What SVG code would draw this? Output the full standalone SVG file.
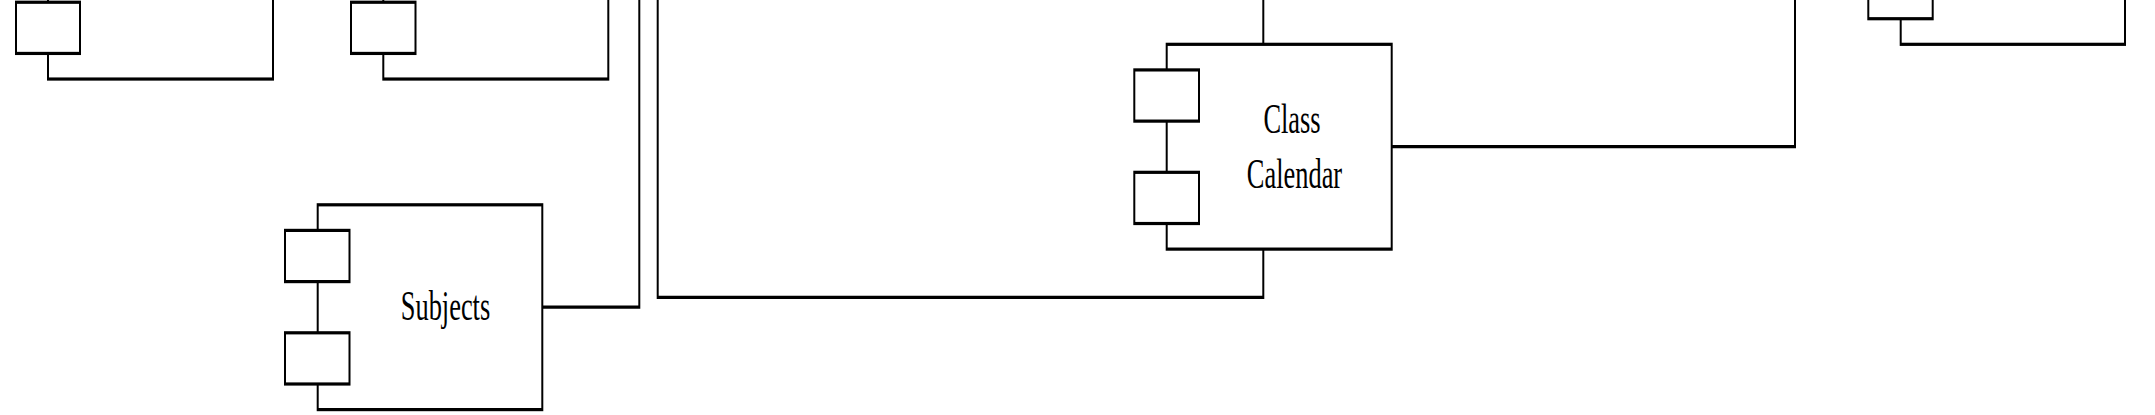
<svg xmlns="http://www.w3.org/2000/svg" width="2155" height="415" viewBox="0 0 2155 415">
<style>
.body{fill:#fff;stroke:#000;stroke-width:2}
.port{fill:#fff;stroke:#000;stroke-width:2}
.wire{fill:none;stroke:#000;stroke-width:2}
.lbl{font-family:"Liberation Serif","Times New Roman",serif;font-size:26.4px;fill:#000;text-anchor:middle}
</style>
<rect x="0" y="0" width="2155" height="415" fill="#fff"/>
<g transform="scale(1,1.6)">
<g id="connectors">
<path class="wire" d="M542.3,192 H639.3 V-5"/>
<path class="wire" d="M1263.3,155.7 V185.8 H657.7 V-5"/>
<path class="wire" d="M1263.3,27.7 V-5"/>
<path class="wire" d="M1391.7,91.7 H1795 V-5"/>
</g>
<g id="node-top-left-1">
<rect class="body" x="48" y="-78.6" width="225" height="128"/>
<rect class="port" x="16" y="-62.6" width="64" height="32"/>
<rect class="port" x="16" y="1.4" width="64" height="32"/>
</g>
<g id="node-top-left-2">
<rect class="body" x="383.3" y="-78.6" width="225" height="128"/>
<rect class="port" x="351" y="-62.6" width="64.5" height="32"/>
<rect class="port" x="351" y="1.4" width="64.5" height="32"/>
</g>
<g id="node-subjects">
<rect class="body" x="317.7" y="128" width="224.6" height="128"/>
<rect class="port" x="285" y="144" width="64.5" height="32"/>
<rect class="port" x="285" y="208" width="64.5" height="32"/>
<text class="lbl" x="445.5" y="200">Subjects</text>
</g>
<g id="node-class-calendar">
<rect class="body" x="1166.7" y="27.7" width="225" height="128"/>
<rect class="port" x="1134.3" y="43.7" width="64.7" height="32"/>
<rect class="port" x="1134.3" y="107.7" width="64.7" height="32"/>
<text class="lbl" x="1292" y="83.3">Class</text>
<text class="lbl" x="1294.5" y="117.3">Calendar</text>
</g>
<g id="node-top-right">
<rect class="body" x="1900.7" y="-100.3" width="224.3" height="128"/>
<rect class="port" x="1868.3" y="-84.3" width="64.4" height="32"/>
<rect class="port" x="1868.3" y="-20.3" width="64.4" height="32"/>
</g>
</g>
</svg>
